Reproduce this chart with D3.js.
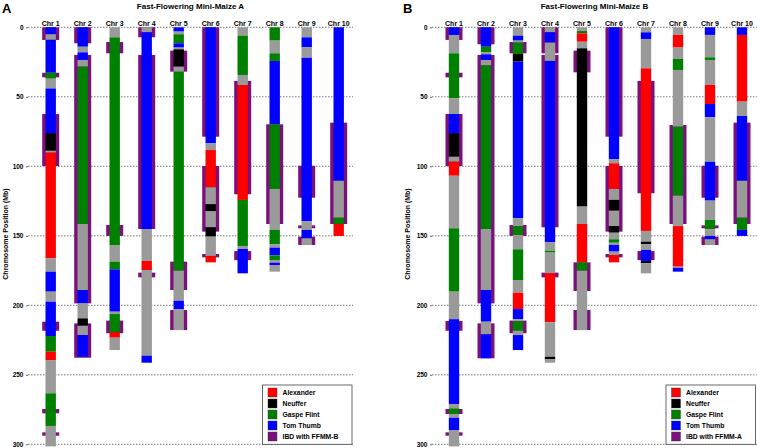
<!DOCTYPE html>
<html><head><meta charset="utf-8">
<script src="https://cdn.jsdelivr.net/npm/d3@7/dist/d3.min.js"></script>
<style>
body{margin:0;background:#fff;}
svg{display:block;font-family:"Liberation Sans",Arial,sans-serif;}
</style></head><body>
<svg id="chart" width="757" height="448"></svg>
<script>
// ---------- data ----------
const chrLabels = ["Chr 1","Chr 2","Chr 3","Chr 4","Chr 5","Chr 6","Chr 7","Chr 8","Chr 9","Chr 10"];
const yTicks = [0,50,100,150,200,250,300];
const founderCodes = ["A","N","G","T"];
const founderNames = ["Alexander","Neuffer","Gaspe Flint","Tom Thumb"];
const panelTitles = ["Fast-Flowering Mini-Maize A","Fast-Flowering Mini-Maize B"];
const ibdNames = ["IBD with FFMM-B","IBD with FFMM-A"];
// segments: [start Mb, end Mb, founder code]  (U = unassigned)
const segmentsA = [
 [[0,5,"T"],[5,9,"U"],[9,32.7,"T"],[32.7,37,"G"],[37,44,"U"],[44,76.3,"T"],[76.3,88.8,"N"],[88.8,90.2,"U"],[90.2,166.2,"A"],[166.2,175.8,"U"],[175.8,190.2,"T"],[190.2,197.4,"U"],[197.4,222.1,"T"],[222.1,233.4,"G"],[233.4,239.4,"A"],[239.4,263.3,"U"],[263.3,286.8,"G"],[286.8,301.5,"U"]],
 [[0,14,"T"],[14,18,"U"],[18,23.5,"T"],[23.5,28.3,"U"],[28.3,141.5,"G"],[141.5,189,"U"],[189,198.6,"T"],[198.6,209.4,"U"],[209.4,214.7,"N"],[214.7,221.4,"U"],[221.4,237,"T"]],
 [[0,7.2,"U"],[7.2,157,"G"],[157,168.6,"U"],[168.6,174.1,"G"],[174.1,204.6,"T"],[204.6,206.3,"U"],[206.3,219.4,"G"],[219.4,223.3,"A"],[223.3,232.2,"U"]],
 [[0,3.6,"U"],[3.6,145.1,"T"],[145.1,168.1,"U"],[168.1,174.6,"A"],[174.6,236.2,"U"],[236.2,241.3,"T"]],
 [[0,3.1,"T"],[3.1,5,"U"],[5,11.5,"G"],[11.5,14.6,"T"],[14.6,15.8,"U"],[15.8,28.3,"N"],[28.3,31.9,"U"],[31.9,175.1,"G"],[175.1,196.7,"U"],[196.7,202.7,"T"],[202.7,217.8,"U"]],
 [[0,83.5,"T"],[83.5,88.3,"U"],[88.3,115.1,"A"],[115.1,127.3,"U"],[127.3,132.2,"N"],[132.2,143.9,"U"],[143.9,150.6,"N"],[150.6,164.5,"U"],[164.5,169.1,"A"]],
 [[0,6,"U"],[6,34.3,"G"],[34.3,41.5,"U"],[41.5,124.2,"A"],[124.2,157.3,"G"],[157.3,159.5,"U"],[159.5,177,"T"]],
 [[0,9.6,"G"],[9.6,18.7,"U"],[18.7,24.2,"G"],[24.2,69.8,"T"],[69.8,116.3,"G"],[116.3,145.8,"U"],[145.8,156.1,"G"],[156.1,158.5,"U"],[158.5,164,"T"],[164,167.4,"G"],[167.4,169.3,"U"],[169.3,171,"T"],[171,175.8,"U"]],
 [[0,7.2,"U"],[7.2,14.4,"T"],[14.4,21.9,"U"],[21.9,139.4,"T"],[139.4,145.8,"U"],[145.8,151.8,"T"],[151.8,156.6,"U"]],
 [[0,110.4,"T"],[110.4,137,"U"],[137,141.5,"G"],[141.5,150.1,"A"]]
];
const segmentsB = [
 [[0,5.5,"T"],[5.5,18.7,"U"],[18.7,51.1,"G"],[51.1,62.4,"U"],[62.4,76.3,"T"],[76.3,93.1,"N"],[93.1,96.7,"U"],[96.7,106.8,"A"],[106.8,144.6,"U"],[144.6,190.2,"G"],[190.2,210,"U"],[210,271,"T"],[271,274.1,"U"],[274.1,278.2,"G"],[278.2,280.9,"U"],[280.9,289.7,"T"],[289.7,301.5,"U"]],
 [[0,14,"T"],[14,18,"G"],[18,19.4,"U"],[19.4,23.5,"T"],[23.5,27.4,"U"],[27.4,145.1,"G"],[145.1,189,"U"],[189,211.8,"T"],[211.8,220.9,"U"],[220.9,238.1,"T"]],
 [[0,6,"U"],[6,9.6,"T"],[9.6,11,"U"],[11,19.2,"G"],[19.2,24.7,"N"],[24.7,137.4,"T"],[137.4,143,"U"],[143,149.4,"G"],[149.4,159.7,"U"],[159.7,181.8,"G"],[181.8,190.9,"U"],[190.9,202.7,"A"],[202.7,210,"T"],[210,211.5,"U"],[211.5,218.3,"G"],[218.3,221.4,"U"],[221.4,232.2,"T"]],
 [[0,3.6,"U"],[3.6,11,"T"],[11,24.2,"U"],[24.2,154.7,"T"],[154.7,160.7,"U"],[160.7,162.1,"G"],[162.1,177,"U"],[177,212.3,"A"],[212.3,237,"U"],[237,238.9,"N"],[238.9,241.3,"U"]],
 [[0,2.7,"U"],[2.7,4.3,"G"],[4.3,10.4,"A"],[10.4,15.1,"U"],[15.1,129,"N"],[129,141.5,"U"],[141.5,169.1,"A"],[169.1,175.1,"G"],[175.1,217.8,"U"]],
 [[0,95,"T"],[95,97.8,"U"],[97.8,116.3,"A"],[116.3,124.2,"U"],[124.2,131.9,"N"],[131.9,143,"U"],[143,147.8,"N"],[147.8,152.5,"U"],[152.5,155,"G"],[155,156.5,"U"],[156.5,161.4,"T"],[161.4,163.8,"U"],[163.8,169.1,"A"]],
 [[0,3.6,"U"],[3.6,8.4,"T"],[8.4,29.5,"U"],[29.5,146.5,"A"],[146.5,154.2,"U"],[154.2,156.1,"N"],[156.1,160.2,"U"],[160.2,168.1,"T"],[168.1,169.8,"N"],[169.8,177,"U"]],
 [[0,5.5,"U"],[5.5,14.6,"A"],[14.6,22.8,"U"],[22.8,30.7,"G"],[30.7,71.5,"U"],[71.5,121.1,"G"],[121.1,143,"U"],[143,172.2,"A"],[172.2,173,"U"],[173,175.8,"T"]],
 [[0,5.5,"T"],[5.5,21.6,"U"],[21.6,23.5,"G"],[23.5,41.5,"U"],[41.5,55.2,"A"],[55.2,64.7,"T"],[64.7,96.7,"U"],[96.7,124.7,"T"],[124.7,138.6,"U"],[138.6,145.3,"G"],[145.3,150.1,"U"],[150.1,152.5,"T"],[152.5,156.6,"U"]],
 [[0,5.5,"T"],[5.5,53.5,"A"],[53.5,63.8,"U"],[63.8,110.4,"T"],[110.4,137,"U"],[137,145.8,"G"],[145.8,150.1,"T"]]
];
// IBD regions: [start Mb, end Mb]
const ibdA = [
 [[0,9.1],[32.7,36],[62.4,99.8],[211.8,218.3],[274.6,277.7],[291.4,293.8]],
 [[0,11.5],[19.9,198.6],[213,237.7]],
 [[10.6,18.7],[142.2,150.1],[211,220.1]],
 [[0,7.2],[19.9,145.1],[176.5,179.9]],
 [[16.8,31.9],[168.6,189],[203.4,217.8]],
 [[0,78.7],[99.8,147],[163.1,165.5]],
 [[38.6,120.1],[161,167.5]],
 [[69.8,141.5]],
 [[99.6,122.6],[142.5,144.6],[150.6,156.6]],
 [[68.6,141.5]]
];
const ibdB = [
 [[0,9.1],[32.7,36],[62.4,99.8],[211.3,218.3],[274.6,278.2],[291.4,293.8]],
 [[0,12.2],[19.9,198.6],[213,238.1]],
 [[10.6,18.7],[142.2,150.1],[211,220.1]],
 [[0,18.7],[19.9,143.9],[176.5,179.9]],
 [[16.8,32.4],[169.1,189.7],[203.4,217.8]],
 [[0,78.7],[99.8,147],[163.1,165.5]],
 [[38.6,119.4],[161,167.5]],
 [[70.3,141.5]],
 [[99.6,122.6],[142.5,144.6],[150.6,156.6]],
 [[68.6,141.5]]
];

// ---------- styles ----------
const colorOf = {A:"#ff0000",N:"#000000",G:"#008000",T:"#0000ff",U:"#9a9a9a"};
const ibdColor = "#7b107b";

const svg = d3.select("#chart");
const y = d3.scaleLinear().domain([0,300]).range([27.3,444.3]);

const panels = [
 {letter:"A", lx:2, gx0:28, gx1:353, bx0:34.7, segs:segmentsA, ibd:ibdA, title:panelTitles[0], ibdName:ibdNames[0], ylab:5, legX:262.5},
 {letter:"B", lx:403, gx0:432, gx1:757, bx0:438, segs:segmentsB, ibd:ibdB, title:panelTitles[1], ibdName:ibdNames[1], ylab:407, legX:666}
];

panels.forEach(p => {
  const g = svg.append("g");
  const x = d3.scaleBand().domain(chrLabels).range([p.bx0, p.bx0 + 320]).padding(0);
  const cx = c => x(c) + x.bandwidth()/2;
  const wOuter = 17, wInner = 10.4;

  // panel letter
  g.append("text").attr("x", p.lx).attr("y", 13).attr("font-size", 13).attr("font-weight", "bold").text(p.letter);
  // title
  g.append("text").attr("x", (p.gx0 + p.gx1)/2).attr("y", 9).attr("text-anchor", "middle")
    .attr("font-size", 8).attr("font-weight", "bold").text(p.title);

  // gridlines
  g.append("g").selectAll("line").data(yTicks).join("line")
    .attr("x1", p.gx0).attr("x2", p.gx1).attr("y1", d => y(d)).attr("y2", d => y(d))
    .attr("stroke", "#555").attr("stroke-width", 0.8).attr("stroke-dasharray", "1.5,1.5");

  // y axis
  const ax = g.append("g").attr("transform", `translate(${p.gx0},0)`)
    .call(d3.axisLeft(y).tickValues(yTicks).tickSize(2).tickPadding(2.5));
  ax.select(".domain").remove();
  ax.selectAll(".tick line").attr("stroke", "#666");
  ax.selectAll(".tick text").attr("font-size", 6.5).attr("font-weight", "bold")
    .attr("font-family", "Liberation Sans, Arial, sans-serif").attr("fill", "#000");

  // y label
  g.append("text").attr("transform", `translate(${p.ylab + 3},234) rotate(-90)`)
    .attr("text-anchor", "middle").attr("font-size", 7).attr("font-weight", "bold").text("Chromosome Position (Mb)");

  // chromosome labels
  g.append("g").selectAll("text").data(chrLabels).join("text")
    .attr("x", d => cx(d)).attr("y", 25.5).attr("text-anchor", "middle")
    .attr("font-size", 7).attr("font-weight", "bold").text(d => d);

  // chromosomes
  chrLabels.forEach((c, i) => {
    const cg = g.append("g");
    cg.selectAll("rect.ibd").data(p.ibd[i]).join("rect").attr("class", "ibd")
      .attr("x", cx(c) - wOuter/2).attr("width", wOuter)
      .attr("y", d => y(d[0])).attr("height", d => y(d[1]) - y(d[0]))
      .attr("fill", ibdColor);
    cg.selectAll("rect.seg").data(p.segs[i]).join("rect").attr("class", "seg")
      .attr("x", cx(c) - wInner/2).attr("width", wInner)
      .attr("y", d => y(d[0])).attr("height", d => y(d[1]) - y(d[0]))
      .attr("fill", d => colorOf[d[2]]);
  });

  // legend
  const lg = g.append("g").attr("transform", `translate(${p.legX},385)`);
  lg.append("rect").attr("width", 89.5).attr("height", 59.3).attr("fill", "#fff")
    .attr("stroke", "#444").attr("stroke-width", 0.8);
  const items = founderCodes.map((c, k) => ({name: founderNames[k], color: colorOf[c]}))
    .concat([{name: p.ibdName, color: ibdColor}]);
  const row = lg.selectAll("g.item").data(items).join("g").attr("class", "item")
    .attr("transform", (d, k) => `translate(5.5,${3 + k*11})`);
  row.append("rect").attr("width", 9).attr("height", 9).attr("fill", d => d.color)
    .attr("stroke", "#333").attr("stroke-width", 0.4);
  row.append("text").attr("x", 14.5).attr("y", 7).attr("font-size", 6.8).attr("font-weight", "bold").text(d => d.name);
});
</script>
</body></html>
